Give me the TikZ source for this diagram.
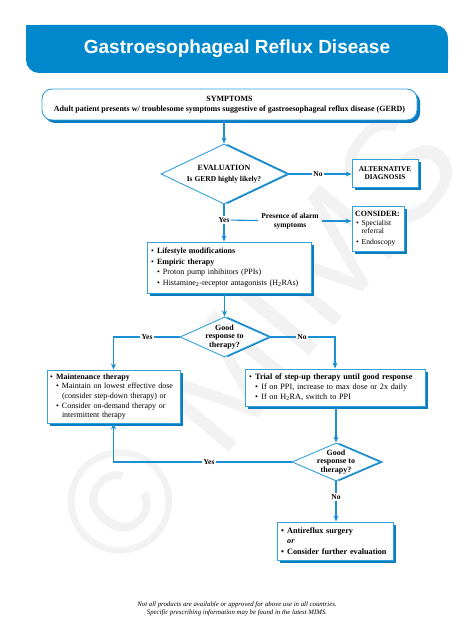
\documentclass[tikz,border=0pt]{standalone}
\usepackage{fontspec}
\setmainfont{Liberation Serif}
\newfontfamily\titlefont{Liberation Sans}
\usetikzlibrary{shapes.geometric,arrows.meta,shadows}
\definecolor{titleblue}{RGB}{0,136,204}
\definecolor{lineblue}{RGB}{27,143,210}
\definecolor{boxblue}{RGB}{52,160,220}
\definecolor{shadowblue}{RGB}{10,124,192}
\definecolor{wmgray}{RGB}{242,242,242}
\newcommand\bul{\makebox[0.75em][l]{\textbullet}}
\newcommand\ind{\hspace*{0.75em}}
\tikzset{
  every node/.style={font=\fontsize{8}{10}\selectfont},
  fbox/.style={draw=boxblue, line width=0.9pt, fill=white, inner sep=4pt, align=left,
     general shadow={shadow xshift=3pt, shadow yshift=-3pt, fill=shadowblue}},
  dia/.style={diamond, draw=boxblue, line width=0.9pt, fill=white, inner sep=0pt,
     general shadow={shadow xshift=3.5pt, shadow yshift=0pt, fill=shadowblue}},
  ln/.style={draw=lineblue, line width=1.1pt},
  arr/.style={ln, -{Stealth[length=6pt,width=5pt]}},
  lbl/.style={font=\fontsize{7.5}{9}\selectfont\bfseries, fill=white, inner sep=1.5pt},
  dtext/.style={font=\fontsize{8}{8.6}\selectfont\bfseries, align=center},
}
\begin{document}
\begin{tikzpicture}[x=1pt,y=-1pt]
\useasboundingbox (0,0) rectangle (474,644);
% watermark
\node[font=\titlefont\fontsize{148}{148}\selectfont, text=wmgray, rotate=50] (wm) at (258,338) {© MIMS};
% title bar
\fill[titleblue, rounded corners=13pt] (26,25) rectangle (448,73);
\fill[titleblue] (26,25) rectangle (50,49);
\fill[titleblue] (424,49) rectangle (448,73);
\node[font=\titlefont\fontsize{19}{22}\selectfont\bfseries, text=white] (title) at (237,49) {Gastroesophageal Reflux Disease};
% symptoms
\node[fbox, rounded corners=10pt, minimum width=375pt, minimum height=31pt, align=center, inner sep=2pt] (sym) at (229.5,104.5)
  {\textbf{SYMPTOMS}\\\textbf{Adult patient presents w/ troublesome symptoms suggestive of gastroesophageal reflux disease (GERD)}};
% evaluation diamond
\node[dia, minimum width=126pt, minimum height=60pt] (d1) at (224,174) {};
\node[dtext] (d1t) at (d1) {EVALUATION\\[2pt]{\fontsize{7.5}{8}\selectfont Is GERD highly likely?}};
% alternative diagnosis
\node[fbox, align=center, inner sep=3pt, minimum width=66pt, minimum height=28pt, font=\fontsize{7.3}{8.4}\selectfont\bfseries] (alt) at (385,173) {ALTERNATIVE\\DIAGNOSIS};
% consider
\node[fbox, text width=46pt, inner sep=3pt, minimum height=45pt, font=\fontsize{7.6}{8.6}\selectfont] (cons) at (378,228.5)
  {{\fontsize{8}{9}\selectfont\textbf{CONSIDER:}}\\
   \hspace*{1pt}\bul Specialist\\
   \hspace*{1pt}\ind referral\\[2pt]
   \hspace*{1pt}\bul Endoscopy};
% lifestyle
\node[fbox, text width=156pt, minimum height=51pt, font=\fontsize{8}{10.5}\selectfont] (life) at (229,267.5)
  {\bul\textbf{Lifestyle modifications}\\
   \bul\textbf{Empiric therapy}\\
   \ind\bul Proton pump inhibitors (PPIs)\\
   \ind\bul Histamine\textsubscript{2}-receptor antagonists (H\textsubscript{2}RAs)};
% good response diamond 2
\node[dia, minimum width=89pt, minimum height=40pt] (d2) at (224.5,337) {};
\node[dtext] (d2t) at (d2) {Good\\response to\\therapy?};
% maintenance
\node[fbox, text width=127pt, inner sep=3pt, minimum height=53pt, font=\fontsize{8}{9.6}\selectfont] (maint) at (113.5,396.5)
  {\bul\textbf{Maintenance therapy}\\
   \ind\bul Maintain on lowest effective dose\\
   \ind\ind(consider step-down therapy) or\\
   \ind\bul Consider on-demand therapy or\\
   \ind\ind intermittent therapy};
% trial
\node[fbox, text width=172pt, minimum height=37pt, font=\fontsize{8.2}{10}\selectfont] (trial) at (335,387.5)
  {\bul\textbf{Trial of step-up therapy until good response}\\
   \ind\bul If on PPI, increase to max dose or 2x daily\\
   \ind\bul If on H\textsubscript{2}RA, switch to PPI};
% good response diamond 3
\node[dia, minimum width=88pt, minimum height=38pt] (d3) at (336,462) {};
\node[dtext] (d3t) at (d3) {Good\\response to\\therapy?};
% final
\node[fbox, text width=108pt, minimum height=38pt, font=\fontsize{8.2}{10.5}\selectfont\bfseries] (final) at (335,541)
  {\bul Antireflux surgery\\
   \ind\textit{or}\\
   \bul Consider further evaluation};
% footer
\node[font=\fontsize{6.8}{8}\selectfont\itshape, align=center] (foot) at (237,609)
  {Not all products are available or approved for above use in all countries.\\Specific prescribing information may be found in the latest MIMS.};
% connectors
\draw[arr] (d1.north |- sym.south) -- (d1.north);
\draw[arr] (d1.east) -- (d1.east -| alt.west);
\node[lbl] (no1) at (318,174) {No};
\draw[arr] (d1.south) -- (d1.south |- life.north);
\node[lbl] (yes1) at (224,220) {Yes};
\node[lbl, align=center, font=\fontsize{7.5}{8.5}\selectfont\bfseries, fill=none, inner sep=3pt] (alarm) at (290,221) {Presence of alarm\\symptoms};
\draw[ln] (yes1) -- (alarm);
\draw[arr] (alarm) -- (alarm -| cons.west);
\draw[arr] (d2.north |- life.south) -- (d2.north);
\draw[arr] (d2.west) -| (maint.north);
\node[lbl] (yes2) at (147,337) {Yes};
\draw[arr] (d2.east) -| (trial.north);
\node[lbl] (no2) at (302,337) {No};
\draw[arr] (d3.north |- trial.south) -- (d3.north);
\draw[arr] (d3.west) -| (maint.south);
\node[lbl] (yes3) at (209,462) {Yes};
\draw[arr] (d3.south) -- (d3.south |- final.north);
\node[lbl] (no3) at (336,497) {No};
\end{tikzpicture}
\end{document}
